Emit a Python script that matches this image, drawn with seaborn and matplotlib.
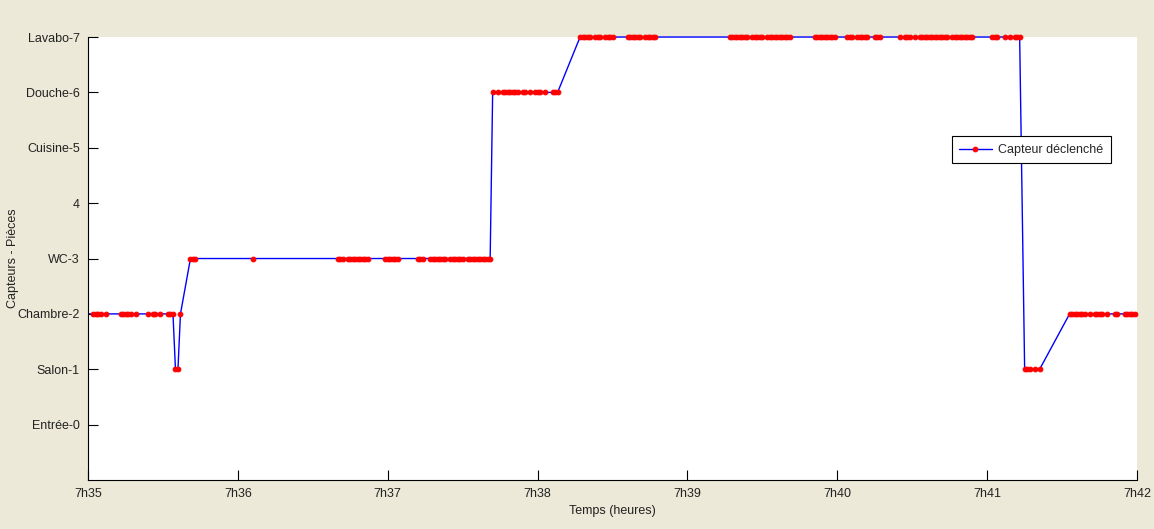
import pandas as pd
import matplotlib
matplotlib.use("Agg")
import matplotlib.pyplot as plt
import matplotlib.patches as mpatches
import seaborn as sns

# Pièces (codes capteurs) et libellés de l'axe Y
room_codes = [0, 1, 2, 3, 4, 5, 6, 7]
room_labels = ["Entrée-0", "Salon-1", "Chambre-2", "WC-3", "4", "Cuisine-5", "Douche-6", "Lavabo-7"]

# Axe X : secondes depuis 7h35
minute_ticks = [0, 60, 120, 180, 240, 300, 360, 420]
minute_labels = ["7h35", "7h36", "7h37", "7h38", "7h39", "7h40", "7h41", "7h42"]

# Instants de déclenchement (s depuis 7h35), par séquence de pièce
t_chambre_a = [-2, 2, 3, 4, 5, 7, 13, 14, 15, 16, 17, 19, 24, 26, 27, 29, 32, 33, 34]
t_salon_a = [35, 36]
t_chambre_b = [37]
t_wc = [41, 42, 43, 66, 100, 101, 102, 104, 105, 106, 107, 108, 109, 110, 111, 112,
        119, 120, 121, 122, 123, 124, 132, 133, 134, 137, 138, 139, 140, 141, 142, 143,
        145, 146, 147, 148, 149, 150, 152, 153, 154, 155, 156, 157, 158, 159, 160, 161]
t_douche = [162, 164, 166, 167, 168, 169, 170, 171, 172, 174, 175, 177, 179, 180, 181,
            183, 186, 187, 188]
t_lavabo = [197, 198, 199, 200, 201, 203, 204, 205, 207, 208, 209, 210,
            216, 217, 218, 219, 220, 221, 223, 224, 225, 226, 227,
            257, 258, 259, 260, 261, 262, 263, 264, 266, 267, 268, 269, 270,
            272, 273, 274, 275, 276, 277, 278, 279, 280, 281,
            291, 292, 293, 294, 295, 296, 297, 298, 299, 304, 305, 306,
            308, 309, 310, 311, 312, 315, 316, 317, 325, 327, 328, 329, 331,
            333, 334, 335, 336, 337, 338, 339, 340, 341, 342, 343, 344,
            346, 347, 348, 349, 350, 351, 352, 353, 354, 362, 363, 364, 367, 369,
            371, 372, 373]
t_salon_b = [375, 376, 377, 379, 381]
t_chambre_c = [393, 394, 395, 396, 397, 398, 399, 401, 403, 404, 405, 406, 408,
               411, 412, 415, 416, 417, 418, 419]

runs = [(2, t_chambre_a), (1, t_salon_a), (2, t_chambre_b), (3, t_wc), (6, t_douche),
        (7, t_lavabo), (1, t_salon_b), (2, t_chambre_c)]

rows = []
for code, times in runs:
    for t in times:
        rows.append({"temps": t, "capteur": code})
df = pd.DataFrame(rows)

sns.set_style("white")
plt.rcParams["font.family"] = ["Liberation Sans", "DejaVu Sans"]

bg = "#ece9d8"
txt = "#222222"
fig = plt.figure(figsize=(11.54, 5.29), dpi=100, facecolor=bg)
ax = fig.add_axes([0.0763, 0.0926, 0.909, 0.8374])
ax.set_facecolor("white")

sns.lineplot(data=df, x="temps", y="capteur", ax=ax, sort=False, estimator=None,
             color="#0000ff", linewidth=1.0, marker="o", markersize=3.4,
             markerfacecolor="#ff0000", markeredgecolor="#ff0000",
             label="Capteur déclenché")

# clip à gauche seulement (les marqueurs du haut restent entiers)
clip_rect = mpatches.Rectangle((0, -0.03), 1.03, 1.06, transform=ax.transAxes,
                               facecolor="none", edgecolor="none")
ax.add_patch(clip_rect)
for line in ax.lines:
    line.set_clip_path(clip_rect)

ax.set_xlim(0, 420)
ax.set_ylim(-1, 7)
ax.set_xticks(minute_ticks)
ax.set_xticklabels(minute_labels)
ax.set_yticks(room_codes)
ax.set_yticklabels(room_labels)
ax.tick_params(direction="in", length=7, width=0.8, labelsize=9, colors="black",
               labelcolor=txt, pad=6, left=True, bottom=True)

for side in ["top", "right"]:
    ax.spines[side].set_visible(False)
for side in ["left", "bottom"]:
    ax.spines[side].set_color("black")
    ax.spines[side].set_linewidth(0.8)

ax.set_xlabel("Temps (heures)", fontsize=9, color=txt, labelpad=3)
ax.set_ylabel("Capteurs - Pièces", fontsize=9, color=txt)
ax.yaxis.set_label_coords(-0.066, 0.5)

leg = ax.legend(loc="center", bbox_to_anchor=(0.899, 0.745), frameon=True, fancybox=False,
                edgecolor="black", facecolor="white", fontsize=9, handlelength=2.6,
                handletextpad=0.5, borderpad=0.6, framealpha=1)
leg.get_frame().set_linewidth(0.8)

plt.savefig("out.png", dpi=100, facecolor=bg)
